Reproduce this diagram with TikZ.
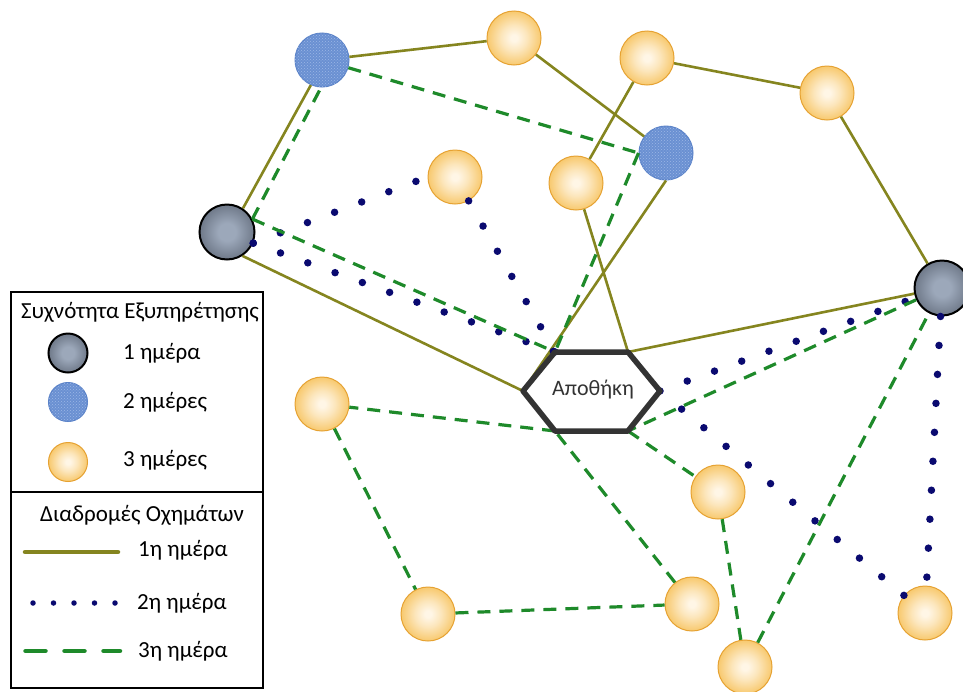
\documentclass[tikz,border=0pt]{standalone}
\usepackage{fontspec}
\setmainfont{Carlito}
\usetikzlibrary{patterns,calc}
\definecolor{olivec}{HTML}{85851F}
\definecolor{greenc}{HTML}{1E8A2A}
\definecolor{navyc}{HTML}{0A0A70}
\definecolor{orangeb}{HTML}{E6A232}
\definecolor{bluef}{HTML}{6A90D2}
\definecolor{bluel}{HTML}{9DB8E6}
\definecolor{blueb}{HTML}{5A82C8}
\definecolor{hexc}{HTML}{333333}
\definecolor{oczero}{HTML}{FFF6E6}
\definecolor{ocone}{HTML}{FCE6BC}
\definecolor{octwo}{HTML}{F8CB74}
\definecolor{octhree}{HTML}{F3B446}
\definecolor{ocfour}{HTML}{EEA934}
\definecolor{bkzero}{HTML}{9CA8BA}
\definecolor{bkone}{HTML}{6C7686}
\definecolor{bktwo}{HTML}{454B55}
\definecolor{bkthree}{HTML}{2A2E34}
\pgfdeclareradialshading{orangeball}{\pgfpoint{0bp}{0bp}}{color(0bp)=(oczero); color(3bp)=(oczero); color(12bp)=(ocone); color(24bp)=(octwo); color(38bp)=(octhree); color(50bp)=(ocfour)}
\pgfdeclareradialshading{blackball}{\pgfpoint{0bp}{0bp}}{color(0bp)=(bkzero); color(8bp)=(bkzero); color(26bp)=(bkone); color(42bp)=(bktwo); color(50bp)=(bkthree)}
\tikzset{
  day1/.style={olivec, line width=2.6pt},
  day2/.style={navyc, line width=7.5pt, line cap=round, dash pattern=on 0pt off 29pt},
  day3/.style={greenc, line width=3.2pt, dash pattern=on 13pt off 9pt},
  orangenode/.style={circle, minimum size=#1, inner sep=0pt, draw=orangeb, line width=1pt, shading=orangeball},
  orangenode/.default=54pt,
  blacknode/.style={circle, minimum size=#1, inner sep=0pt, draw=black, line width=2pt, shading=blackball},
  blacknode/.default=55pt,
  bluenode/.style={circle, minimum size=#1, inner sep=0pt, draw=blueb, line width=1pt, fill=bluef, postaction={pattern=crosshatch dots, pattern color=bluel}},
  bluenode/.default=54pt,
  lgtext/.style={font=\fontsize{23}{26}\selectfont, inner sep=0pt, anchor=west},
  lgtitle/.style={font=\fontsize{23}{26}\selectfont, inner sep=0pt},
}
\begin{document}
\begin{tikzpicture}[x=1pt,y=-1pt]
\useasboundingbox[fill=white] (0,0) rectangle (963,691);
% nodes
\node[blacknode] (K1) at (227,232) {};
\node[bluenode] (B1) at (322,60) {};
\node[orangenode] (O1) at (514,38) {};
\node[orangenode] (O2) at (647,58) {};
\node[orangenode] (O3) at (827,93) {};
\node[bluenode] (B2) at (666,153) {};
\node[orangenode] (O4) at (576,183) {};
\node[orangenode] (O5) at (455,177) {};
\node[blacknode] (K2) at (942,288) {};
\node[orangenode] (O6) at (322,404) {};
\node[orangenode] (O7) at (428,614) {};
\node[orangenode] (O8) at (692,604) {};
\node[orangenode] (O9) at (718,492) {};
\node[orangenode] (O10) at (745,667) {};
\node[orangenode] (O11) at (925,613) {};
% depot
\coordinate (dL) at (523,391);
\coordinate (dTL) at (555,352);
\coordinate (dTR) at (628,352);
\coordinate (dR) at (660,391);
\coordinate (dBR) at (628,431);
\coordinate (dBL) at (555,431);
\fill[white] (dL) -- (dTL) -- (dTR) -- (dR) -- (dBR) -- (dBL) -- cycle;
% day 1
\draw[day1] (K1.56) -- (B1.-114);
\draw[day1] (B1) -- (O1);
\draw[day1] (O1) -- (B2);
\draw[day1] (B2.-90) -- (dL);
\draw[day1] (K1.-57) -- (dL);
\draw[day1] (dTR) -- (O4);
\draw[day1] (O4) -- (O2);
\draw[day1] (O2) -- (O3);
\draw[day1] (O3) -- (K2);
\draw[day1] (K2) -- (dTR);
% day 2
\draw[day2] (K1.-23) -- (O5.180);
\draw[day2] (O5) -- (dTL);
\draw[day2] (K1.-23) -- (dTL);
\draw[day2] (dR) -- (K2);
\draw[day2] (K2) -- (O11);
\draw[day2] (O11) -- (dR);
% day 3
\draw[day3] (K1.27) -- (B1.-92);
\draw[day3] (B1) -- (B2.180);
\draw[day3] (B2.180) -- (dTL);
\draw[day3] (K1.27) -- (dTL);
\draw[day3] (dBL) -- (O6);
\draw[day3] (O6) -- (O7);
\draw[day3] (O7) -- (O8);
\draw[day3] (O8) -- (dBL);
\draw[day3] (dBR) -- (O9);
\draw[day3] (O9) -- (O10);
\draw[day3] (O10) -- (K2);
\draw[day3] (K2) -- (dBR);
% hexagon
\draw[hexc, line width=5.5pt, line join=round] (dL) -- (dTL) -- (dTR) -- (dR) -- (dBR) -- (dBL) -- cycle;
\node[font=\fontsize{22}{25}\selectfont, text=hexc, inner sep=0pt] (depot) at (593,390) {Αποθήκη};
% legend
\draw[line width=1.4pt, fill=white] (11,292) rectangle (263,688);
\draw[line width=1.4pt] (11,492) -- (263,492);
\node[lgtitle] (t1) at (140,312) {Συχνότητα Εξυπηρέτησης};
\node[blacknode=39pt] (lgK) at (68,353) {};
\node[bluenode=39pt] (lgB) at (68,402) {};
\node[orangenode=39pt] (lgO) at (68,462) {};
\node[lgtext] (l1) at (123,353) {1 ημέρα};
\node[lgtext] (l2) at (123,402) {2 ημέρες};
\node[lgtext] (l3) at (123,460) {3 ημέρες};
\node[lgtitle] (t2) at (142,515) {Διαδρομές Οχημάτων};
\coordinate (s1) at (25,552); \coordinate (e1) at (118,552);
\coordinate (s2) at (33,603); \coordinate (e2) at (116,603);
\coordinate (s3) at (25.5,651); \coordinate (e3) at (120,651);
\draw[olivec, line width=4.5pt, line cap=round] (s1) -- (e1);
\draw[navyc, line width=5.5pt, line cap=round, dash pattern=on 0pt off 20.5pt] (s2) -- (e2);
\draw[greenc, line width=4.5pt, line cap=round, dash pattern=on 20pt off 19pt] (s3) -- (e3);
\node[lgtext] (m1) at (138,550) {1η ημέρα};
\node[lgtext] (m2) at (137,603) {2η ημέρα};
\node[lgtext] (m3) at (138,651) {3η ημέρα};
\end{tikzpicture}
\end{document}
